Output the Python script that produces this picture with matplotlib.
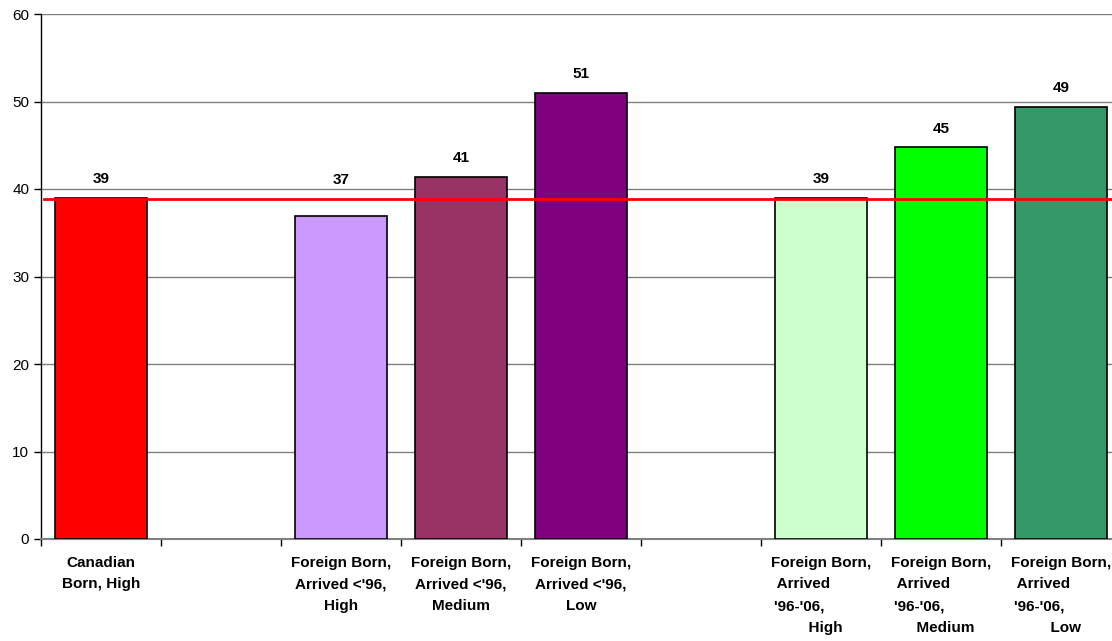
import numpy as np
import matplotlib.pyplot as plt

plt.rcParams['font.family'] = ['Liberation Sans', 'DejaVu Sans']

# slots (empty strings are the blank gaps between groups)
etiquetas = ["Canadian\nBorn, High", "",
             "Foreign Born,\nArrived <'96,\nHigh",
             "Foreign Born,\nArrived <'96,\nMedium",
             "Foreign Born,\nArrived <'96,\nLow", "",
             "Foreign Born,\n Arrived         \n'96-'06,          \n  High",
             "Foreign Born,\n Arrived         \n'96-'06,          \n  Medium",
             "Foreign Born,\n Arrived         \n'96-'06,          \n  Low"]
valores = [39.0, None, 36.9, 41.4, 51.0, None, 39.0, 44.8, 49.4]
rotulos = ["39", "", "37", "41", "51", "", "39", "45", "49"]
cores = ["#FF0000", None, "#CC99FF", "#993366", "#800080", None,
         "#CCFFCC", "#00FF00", "#339966"]
linha_ref = 38.9

fig = plt.figure(figsize=(11.12, 6.41), dpi=100)
ax = fig.add_axes([41 / 1112, 102 / 641, 1080 / 1112, 525 / 641])

x = np.arange(len(etiquetas))
for i in x:
    if valores[i] is None:
        continue
    ax.bar(i, valores[i], width=0.77, color=cores[i], edgecolor='black',
           linewidth=1.2, zorder=3)
    # label sits above the bar, or above the reference line if the bar is lower
    ax.text(i, max(valores[i], linha_ref) + 1.3, rotulos[i], ha='center',
            va='bottom', fontsize=11, fontweight='bold', zorder=5)

ax.axhline(linha_ref, color='#FF0000', linewidth=2, zorder=4,
           xmin=0.003, xmax=1)

ax.set_xlim(-0.5, len(etiquetas) - 0.5)
ax.set_ylim(0, 60)
ax.set_yticks(range(0, 61, 10))
ax.tick_params(axis='y', labelsize=11, length=5, width=1, direction='out')
ax.yaxis.grid(True, color='#808080', linewidth=1, zorder=0)

# ticks at the slot boundaries, labels in the middle
ax.set_xticks(np.arange(-0.5, len(etiquetas), 1))
ax.set_xticklabels([])
ax.tick_params(axis='x', length=5, width=1)
for i in x:
    if etiquetas[i]:
        ax.text(i, -1.9, etiquetas[i], ha='center', va='top',
                fontsize=11, fontweight='bold', linespacing=1.7,
                multialignment='center')

for s in ['top', 'right']:
    ax.spines[s].set_visible(False)
ax.spines['left'].set_linewidth(1)
ax.spines['bottom'].set_color('#808080')
ax.spines['bottom'].set_linewidth(1.5)

fig.savefig('out.png', dpi=100)
